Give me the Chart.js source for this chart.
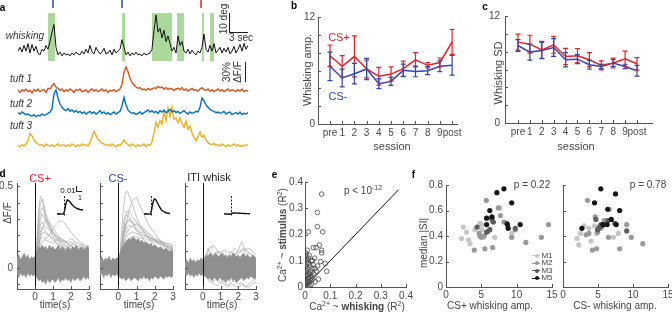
<!DOCTYPE html>
<html>
<head>
<meta charset="utf-8">
<script src="https://cdn.jsdelivr.net/npm/chart.js@4.4.1/dist/chart.umd.min.js"></script>
<style>
body { margin: 0; background: #fff; }
#fig { position: relative; width: 672px; height: 319px; overflow: hidden; font-family: 'Liberation Sans', Arial, sans-serif; color: #333; }
#fig canvas { position: absolute; }
.t { position: absolute; white-space: nowrap; line-height: 1; transform: translate(-50%, -50%); }
.t.r { transform: translate(-50%, -50%) rotate(-90deg); }
.t sup { font-size: 7px; line-height: 0; vertical-align: 4px; }
.bar { position: absolute; background: #222; }
</style>
</head>
<body>
<div id="fig"></div>
<script>
// --- Panel a: whisking + tuft traces (one sample = 1/3 s) ---
const whisk = [1, 3, 0.5, 4, 1, 5, 0, 4.5, 1, 3.5, 0, -1, 2, 1, 4, 2, 6, 11, 15, 3,
  -1, 0.5, -1.5, 0, -1, -0.5, -1.5, 0, -1, 0.5, -0.5, -1, 1, -0.5, 2, 0, 4, 0.5, -0.5, 3,
  1, -0.5, 0.5, 2.5, -0.5, 0, 1.5, -1, 2, 0, 1, 2, 7, 3, -1, 0.5, -1.5, 0, -1, 0.5,
  -1, -0.5, -1.5, 0, -1, -0.5, 0, 2, 12, 20, 11, 13, 8, 12, 6, 9, 5, 1, 3, 0,
  9, 4, 6, 1, 0, 2, -0.5, 1.5, 0, -1, 1, 0, 3, 10, 2, 0.5, 4, 1, 5, 0,
  1.5, 3, 0, 2.5, 0.5, 3, -0.5, 1, 3.5, 0, 2, 4.5, 1, 5, 2, 4];
const tuft1 = [1, -2, 2, 0, 3, -1, 1, -3, 2, 0, 3, -1, 1, 2, -2, 4, 3, 8, 11, 6,
  4, 1, 3, -1, 2, 0, 3, 1, -2, 2, 1, 3, -1, 0, 2, -2, 1, 3, 0, 2,
  -1, 1, 3, 0, 2, -2, 1, 0, 2, -1, 1, 3, 10, 28, 36, 29, 19, 13, 9, 6,
  4, 5, 2, 3, 1, 4, 2, 3, 5, 4, 7, 5, 6, 3, 5, 2, 4, 3, 1, 3,
  4, 2, 5, 1, 3, 0, 2, 4, 1, 2, 0, 3, 5, 2, 1, 3, 0, 2, -1, 1,
  3, 0, 2, -1, 1, 3, 0, 2, 1, -1, 2, 0, 3, -1, 1, 0];
const tuft2 = [2, 0, 3, 1, -1, 0, -2, -3, -1, -4, -2, -3, 0, -2, -1, 1, 3, 8, 30, 36,
  24, 15, 10, 7, 5, 8, 4, 6, 3, 5, 2, 4, 1, 3, 0, 2, 4, 1, 3, 0,
  2, 5, 1, 3, 0, 2, -1, 1, 3, 0, 2, 4, 12, 25, 14, 6, 3, 1, 2, -1,
  1, 3, 0, 2, 4, 6, 3, 5, 2, 4, 1, 5, 3, 6, 2, 4, 7, 3, 5, 2,
  4, 1, 3, 5, 2, 0, 3, 1, 2, 4, 3, 10, 24, 20, 14, 10, 7, 5, 4, 2,
  3, 1, 2, 4, 0, 2, 3, -1, 1, 2, 0, 3, -1, 1, 0, 2];
const tuft3 = [1, -1, 2, 0, 3, 8, 19, 15, 9, 5, 3, 1, 2, -1, 3, 1, 0, 2, -1, 1,
  3, 0, 2, 1, -1, 2, 0, 3, 1, -1, 2, 0, 3, 1, 2, 0, 5, 14, 22, 16,
  10, 7, 4, 3, 1, 2, 0, 3, 1, -1, 2, 1, 4, 9, 5, 2, 0, 3, 1, -1,
  2, 0, 1, 3, -1, 2, 1, 6, 20, 36, 28, 38, 33, 51, 38, 57, 44, 58, 40, 42,
  35, 42, 33, 28, 37, 25, 30, 20, 12, 8, 14, 21, 13, 16, 9, 5, 3, 2, 4, 1,
  2, 0, 3, 1, -1, 2, 0, 1, 3, 0, 2, -1, 1, 0, 2, 1];
const whiskEpochs = [[15, 18.5], [52, 53.5], [67, 77], [79.5, 83], [92, 93], [96, 98]];
const csMinusOnsets = [17.5, 52];
const csPlusOnsets = [91.5];

// --- Panels b, c: per-session whisking ---
const sessions = ['pre', '1', '2', '3', '4', '5', '6', '7', '8', '9', 'post'];
const ampPlus = [7.66, 6.47, 7.59, 6.17, 5.35, 5.6, 6.2, 7.2, 6.58, 6.9, 9.2];
const ampPlusErr = [1.2, 1.2, 2.3, 1.0, 1.0, 0.8, 0.85, 0.8, 0.3, 0.5, 1.4];
const ampMinus = [6.47, 5.16, 5.64, 6.17, 4.52, 4.78, 6.02, 5.9, 5.98, 6.47, 6.58];
const ampMinusErr = [1.6, 1.0, 1.15, 1.2, 0.55, 0.45, 0.7, 0.6, 0.45, 0.6, 1.1];
const sdPlus = [9.07, 8.84, 8.2, 8.77, 7.46, 7.54, 7.09, 6.46, 6.72, 7.2, 6.64];
const sdPlusErr = [0.9, 1.0, 0.95, 0.95, 0.9, 0.8, 0.8, 0.5, 0.55, 0.85, 0.7];
const sdMinus = [8.69, 7.95, 8.13, 8.47, 7.09, 7.16, 6.53, 6.34, 6.72, 6.34, 5.86];
const sdMinusErr = [0.65, 0.9, 0.9, 1.0, 0.8, 0.5, 0.5, 0.25, 0.4, 0.25, 0.6];

// --- Panel d: dF/F traces around CS / ITI whisks ---
const dTime = [-1, -0.9, -0.8, -0.7, -0.6, -0.5, -0.4, -0.3, -0.2, -0.1, 0,
  0.1, 0.2, 0.3, 0.4, 0.5, 0.6, 0.7, 0.8, 0.9, 1, 1.1, 1.2, 1.3, 1.4, 1.5,
  1.6, 1.7, 1.8, 1.9, 2, 2.1, 2.2, 2.3, 2.4, 2.5, 2.6, 2.7, 2.8, 2.9, 3];
const csPlusUpper = [0.06, 0.08, 0.05, 0.07, 0.09, 0.06, 0.08, 0.05, 0.07, 0.06, 0.07,
  0.10, 0.13, 0.12, 0.14, 0.12, 0.13, 0.11, 0.14, 0.12, 0.13, 0.11, 0.12, 0.14, 0.11, 0.13,
  0.12, 0.10, 0.13, 0.12, 0.11, 0.13, 0.12, 0.14, 0.11, 0.12, 0.13, 0.11, 0.12, 0.13, 0.12];
const csPlusLower = [-0.04, -0.06, -0.03, -0.05, -0.04, -0.06, -0.03, -0.05, -0.04, -0.05, -0.04,
  -0.06, -0.08, -0.07, -0.09, -0.08, -0.10, -0.07, -0.09, -0.08, -0.07, -0.09, -0.08, -0.06, -0.09, -0.07,
  -0.08, -0.06, -0.08, -0.07, -0.09, -0.06, -0.08, -0.07, -0.06, -0.08, -0.07, -0.05, -0.07, -0.06, -0.07];
const csMinusUpper = [0.05, 0.07, 0.04, 0.06, 0.05, 0.07, 0.04, 0.06, 0.05, 0.06, 0.06,
  0.09, 0.12, 0.14, 0.16, 0.17, 0.18, 0.17, 0.19, 0.18, 0.17, 0.18, 0.16, 0.17, 0.15, 0.16,
  0.15, 0.14, 0.15, 0.13, 0.14, 0.13, 0.12, 0.13, 0.12, 0.11, 0.12, 0.11, 0.10, 0.11, 0.10];
const csMinusLower = [-0.05, -0.03, -0.06, -0.04, -0.05, -0.03, -0.06, -0.04, -0.05, -0.04, -0.05,
  -0.06, -0.07, -0.06, -0.08, -0.07, -0.06, -0.08, -0.07, -0.06, -0.07, -0.08, -0.06, -0.07, -0.05, -0.07,
  -0.06, -0.08, -0.06, -0.07, -0.05, -0.06, -0.07, -0.05, -0.06, -0.07, -0.05, -0.06, -0.05, -0.06, -0.05];
const itiUpper = [0.04, 0.05, 0.03, 0.06, 0.04, 0.05, 0.03, 0.05, 0.04, 0.06, 0.05,
  0.06, 0.08, 0.07, 0.09, 0.08, 0.07, 0.09, 0.08, 0.07, 0.08, 0.09, 0.07, 0.08, 0.06, 0.08,
  0.07, 0.09, 0.08, 0.07, 0.08, 0.06, 0.08, 0.09, 0.07, 0.08, 0.07, 0.06, 0.08, 0.07, 0.06];
const itiLower = [-0.04, -0.05, -0.03, -0.05, -0.04, -0.06, -0.04, -0.05, -0.03, -0.05, -0.04,
  -0.05, -0.06, -0.07, -0.06, -0.08, -0.07, -0.06, -0.08, -0.07, -0.06, -0.08, -0.07, -0.09, -0.07, -0.08,
  -0.06, -0.08, -0.07, -0.09, -0.08, -0.07, -0.06, -0.08, -0.07, -0.06, -0.07, -0.05, -0.06, -0.07, -0.06];
const traceTime = [0, 0.1, 0.2, 0.3, 0.4, 0.5, 0.6, 0.8, 1.0, 1.2, 1.4, 1.6, 1.8, 2.0, 2.2, 2.4, 2.6, 2.8, 3.0];
const csPlusTraces = [
  [0.03, 0.15, 0.35, 0.44, 0.43, 0.36, 0.30, 0.24, 0.19, 0.15, 0.13, 0.12, 0.10, 0.09, 0.08, 0.07, 0.06, 0.06, 0.05],
  [0.02, 0.12, 0.30, 0.40, 0.42, 0.38, 0.33, 0.27, 0.22, 0.18, 0.15, 0.13, 0.11, 0.10, 0.09, 0.08, 0.07, 0.07, 0.06],
  [0.01, 0.10, 0.22, 0.30, 0.33, 0.31, 0.28, 0.25, 0.22, 0.20, 0.17, 0.15, 0.13, 0.12, 0.11, 0.10, 0.09, 0.08, 0.08],
  [0.02, 0.08, 0.16, 0.22, 0.25, 0.24, 0.22, 0.19, 0.17, 0.15, 0.14, 0.12, 0.11, 0.10, 0.10, 0.09, 0.09, 0.08, 0.08],
  [0.01, 0.05, 0.10, 0.14, 0.16, 0.17, 0.18, 0.20, 0.24, 0.27, 0.29, 0.28, 0.25, 0.22, 0.19, 0.17, 0.15, 0.14, 0.13],
  [0.02, 0.09, 0.18, 0.26, 0.28, 0.26, 0.25, 0.23, 0.21, 0.19, 0.18, 0.16, 0.15, 0.16, 0.14, 0.13, 0.12, 0.12, 0.11],
  [0.01, 0.06, 0.14, 0.19, 0.21, 0.22, 0.21, 0.20, 0.18, 0.17, 0.16, 0.17, 0.15, 0.14, 0.15, 0.13, 0.14, 0.12, 0.12],
  [0.02, 0.10, 0.25, 0.34, 0.37, 0.35, 0.31, 0.26, 0.21, 0.18, 0.16, 0.14, 0.13, 0.14, 0.12, 0.11, 0.10, 0.10, 0.09],
  [0.01, 0.07, 0.13, 0.17, 0.19, 0.18, 0.17, 0.16, 0.15, 0.17, 0.18, 0.17, 0.16, 0.18, 0.16, 0.15, 0.14, 0.13, 0.13],
  [0.00, 0.05, 0.12, 0.20, 0.24, 0.27, 0.29, 0.28, 0.25, 0.21, 0.18, 0.16, 0.15, 0.13, 0.12, 0.12, 0.11, 0.10, 0.10]
];
const csMinusTraces = [
  [0.00, 0.08, 0.25, 0.38, 0.46, 0.47, 0.44, 0.38, 0.31, 0.26, 0.22, 0.19, 0.16, 0.14, 0.12, 0.10, 0.09, 0.08, 0.07],
  [0.00, 0.05, 0.12, 0.18, 0.24, 0.30, 0.36, 0.42, 0.43, 0.38, 0.33, 0.28, 0.24, 0.21, 0.18, 0.16, 0.14, 0.12, 0.11],
  [0.00, 0.07, 0.18, 0.28, 0.33, 0.35, 0.34, 0.31, 0.28, 0.25, 0.23, 0.21, 0.19, 0.17, 0.16, 0.15, 0.13, 0.12, 0.12],
  [0.00, 0.06, 0.14, 0.22, 0.27, 0.29, 0.30, 0.28, 0.26, 0.24, 0.22, 0.20, 0.18, 0.17, 0.15, 0.14, 0.13, 0.12, 0.11],
  [0.00, 0.05, 0.12, 0.19, 0.23, 0.25, 0.26, 0.25, 0.23, 0.21, 0.20, 0.19, 0.18, 0.17, 0.16, 0.16, 0.15, 0.14, 0.13],
  [0.00, 0.04, 0.10, 0.15, 0.19, 0.22, 0.24, 0.26, 0.27, 0.26, 0.24, 0.22, 0.20, 0.18, 0.17, 0.15, 0.14, 0.13, 0.12],
  [0.00, 0.06, 0.15, 0.24, 0.31, 0.33, 0.31, 0.27, 0.23, 0.20, 0.17, 0.15, 0.14, 0.12, 0.11, 0.10, 0.10, 0.09, 0.09],
  [0.00, 0.04, 0.09, 0.14, 0.18, 0.20, 0.21, 0.22, 0.21, 0.20, 0.19, 0.19, 0.18, 0.17, 0.17, 0.16, 0.15, 0.15, 0.14],
  [0.00, 0.05, 0.13, 0.21, 0.26, 0.28, 0.29, 0.27, 0.24, 0.22, 0.21, 0.19, 0.17, 0.16, 0.15, 0.14, 0.12, 0.11, 0.10],
  [0.00, 0.03, 0.08, 0.12, 0.15, 0.17, 0.18, 0.19, 0.19, 0.18, 0.18, 0.17, 0.17, 0.16, 0.15, 0.15, 0.14, 0.13, 0.13]
];
const itiTraces = [
  [0.00, 0.02, 0.06, 0.10, 0.13, 0.12, 0.14, 0.11, 0.08, 0.06, 0.05, 0.06, 0.08, 0.11, 0.16, 0.10, 0.07, 0.05, 0.04],
  [0.00, 0.03, 0.08, 0.12, 0.10, 0.08, 0.07, 0.09, 0.10, 0.08, 0.07, 0.09, 0.12, 0.10, 0.11, 0.12, 0.09, 0.08, 0.06],
  [0.00, -0.03, -0.05, -0.07, -0.09, -0.08, -0.10, -0.11, -0.09, -0.10, -0.12, -0.10, -0.11, -0.12, -0.10, -0.11, -0.12, -0.10, -0.09],
  [0.00, 0.02, 0.04, 0.07, 0.08, 0.09, 0.08, 0.10, 0.09, 0.11, 0.09, 0.10, 0.08, 0.09, 0.10, 0.11, 0.12, 0.10, 0.08],
  [0.00, -0.02, -0.04, -0.06, -0.05, -0.07, -0.08, -0.07, -0.09, -0.08, -0.11, -0.09, -0.08, -0.10, -0.09, -0.12, -0.10, -0.08, -0.07]
];
const dXTicks = [0, 1, 2, 3];
const dYTicks = [-0.1, 0, 0.1, 0.2, 0.3, 0.4, 0.5];
// mean response insets
const insetTime = [-1, -0.6, -0.3, 0, 0.15, 0.3, 0.45, 0.6, 0.8, 1.0, 1.3, 1.7, 2.1, 2.5, 3.0];
const insetCsPlus = [0, 0.0005, -0.0003, 0, 0.006, 0.016, 0.024, 0.028, 0.027, 0.024, 0.019, 0.014, 0.011, 0.009, 0.008];
const insetCsMinus = [0, 0.0004, -0.0002, 0, 0.007, 0.018, 0.026, 0.030, 0.029, 0.024, 0.016, 0.008, 0.004, 0.002, 0.001];
const insetIti = [0, 0.0003, -0.0005, 0, 0.001, 0.0015, 0.002, 0.0022, 0.002, 0.0018, 0.0015, 0.0012, 0.001, 0.0008, 0.0005];

// --- Panel e: R^2 per tuft ---
const eWhisk = [0.066, 0.049, 0.049, 0.070, 0.013, 0.033, 0.044, 0.057, 0.066, 0.066, 0.062, 0.080, 0.086, 0.053, 0.013, 0.004, 0.030, 0.040, 0.020,
  0.002, 0.005, 0.008, 0.010, 0.003, 0.012, 0.015, 0.006, 0.018, 0.020, 0.004, 0.010, 0.022, 0.025, 0.015, 0.008, 0.030, 0.028, 0.035, 0.001,
  0.012, 0.020, 0.005, 0.017, 0.025, 0.040, 0.032, 0.045, 0.010, 0.002, 0.007, 0.014, 0.027, 0.038, 0.050, 0.001, 0.003, 0.019, 0.023, 0.009];
const eStim = [0.354, 0.284, 0.230, 0.210, 0.210, 0.150, 0.150, 0.160, 0.140, 0.130, 0.097, 0.090, 0.060, 0.030, 0.110, 0.120, 0.100, 0.070, 0.050,
  0.010, 0.020, 0.005, 0.030, 0.040, 0.015, 0.050, 0.060, 0.020, 0.040, 0.080, 0.070, 0.060, 0.010, 0.090, 0.100, 0.030, 0.070, 0.050, 0.030,
  0.000, 0.080, 0.110, 0.120, 0.100, 0.020, 0.085, 0.060, 0.045, 0.065, 0.090, 0.035, 0.045, 0.110, 0.080, 0.005, 0.130, 0.005, 0.025, 0.140];
const eDiag = [0, 0.37];

// --- Panel f: median |SI| vs whisking amplitude, per mouse ---
const mice = ['M1', 'M2', 'M3', 'M5'];
const m1Plus = [[2.2, 0.38], [2.45, 0.47], [2.9, 0.43], [3.2, 0.37], [3.4, 0.34], [4.1, 0.45], [4.8, 0.50], [5.0, 0.49], [5.3, 0.39], [6.9, 0.39], [7.6, 0.62], [9.3, 0.42], [5.05, 0.45]];
const m2Plus = [[4.0, 0.29], [4.7, 0.42], [4.8, 0.40], [5.0, 0.39], [5.4, 0.40], [5.7, 0.68], [5.5, 0.30], [6.0, 0.44], [6.5, 0.52], [6.6, 0.31], [7.7, 0.56], [8.2, 0.51], [9.3, 0.39], [9.8, 0.45], [11.3, 0.35], [13.5, 0.39], [14.5, 0.49], [7.4, 0.62]];
const m3Plus = [[4.4, 0.47], [5.75, 0.43], [6.2, 0.45], [6.5, 0.54], [6.7, 0.51], [8.6, 0.50], [9.8, 0.46]];
const m5Plus = [[5.75, 0.54], [5.75, 0.49], [6.2, 0.60], [6.5, 0.55], [7.2, 0.74], [8.2, 0.77], [8.7, 0.49], [8.8, 0.46], [9.3, 0.66], [10.5, 0.49]];
const m1Minus = [[2.0, 0.38], [2.25, 0.33], [2.5, 0.42], [3.0, 0.48], [3.7, 0.46], [4.0, 0.36], [4.5, 0.48], [5.9, 0.49], [6.7, 0.61], [7.2, 0.39], [7.9, 0.42], [4.8, 0.42]];
const m2Minus = [[3.5, 0.68], [4.2, 0.29], [4.8, 0.30], [3.3, 0.41], [3.7, 0.42], [4.95, 0.43], [5.4, 0.46], [5.9, 0.52], [6.5, 0.39], [8.1, 0.30], [9.1, 0.49], [9.75, 0.39], [11.4, 0.34], [4.6, 0.55]];
const m3Minus = [[4.7, 0.53], [5.2, 0.47], [5.4, 0.49], [6.4, 0.52], [7.4, 0.50], [9.1, 0.44], [4.95, 0.45], [5.6, 0.48]];
const m5Minus = [[2.7, 0.46], [4.5, 0.66], [5.4, 0.77], [5.7, 0.49], [6.3, 0.49], [6.4, 0.61], [6.9, 0.53], [7.5, 0.73], [7.6, 0.49], [8.1, 0.60]];

// --- Style ---
const RED = '#e8202a';
const BLUE = '#3046b0';
const AXIS = '#555';
const TICK = '#4a4a4a';
const BAND = '#8f8f8f';
const TRACE = '#aaaaaa';
const MOUSE_COLORS = ['#c6c6c6', '#999999', '#5c5c5c', '#151515'];
const TUFT_COLORS = ['#d95319', '#0072bd', '#edb120'];

Chart.defaults.font.family = "'Liberation Sans', Arial, sans-serif";
Chart.defaults.font.size = 10;
Chart.defaults.color = TICK;
Chart.defaults.animation = false;
Chart.defaults.responsive = false;
Chart.defaults.plugins.legend.display = false;
Chart.defaults.plugins.tooltip.enabled = false;
Chart.defaults.elements.point.radius = 0;
Chart.defaults.elements.line.tension = 0;

const fig = document.getElementById('fig');

function addCanvas(x, y, w, h) {
    const c = document.createElement('canvas');
    c.width = w; c.height = h;
    c.style.left = x + 'px'; c.style.top = y + 'px';
    c.style.width = w + 'px'; c.style.height = h + 'px';
    fig.appendChild(c);
    return c;
}

function text(html, x, y, style, rotate) {
    const d = document.createElement('div');
    d.className = rotate ? 't r' : 't';
    d.innerHTML = html;
    d.style.left = x + 'px';
    d.style.top = y + 'px';
    Object.assign(d.style, style || {});
    fig.appendChild(d);
}

function bar(x, y, w, h) {
    const d = document.createElement('div');
    d.className = 'bar';
    Object.assign(d.style, { left: x + 'px', top: y + 'px', width: w + 'px', height: h + 'px' });
    fig.appendChild(d);
}

// fixed axis thickness so each plot box lands where the figure has it
function fix(size) {
    return s => {
        if (s.isHorizontal()) s.height = size; else s.width = size;
        s.paddingLeft = 0; s.paddingRight = 0; s.paddingTop = 0; s.paddingBottom = 0;
    };
}

function ax(o) {
    const ticks = Object.assign({ color: TICK, font: { size: 10 }, padding: 3, autoSkip: false, maxRotation: 0, minRotation: 0 }, o.ticks || {});
    return Object.assign({
        grid: { display: false, drawTicks: false },
        border: { display: true, color: AXIS, width: 1 }
    }, o, { ticks });
}

const pts = (xs, ys) => xs.map((x, i) => ({ x: x, y: ys[i] }));

// --- Plugins ---
// MATLAB-style inward tick marks
const inTicks = {
    id: 'inTicks',
    afterDraw(chart, args, opts) {
        const { ctx, chartArea: a } = chart;
        const len = opts.len || 3;
        ctx.save();
        ctx.strokeStyle = AXIS;
        ctx.lineWidth = 1;
        ['x', 'y'].forEach(id => {
            const s = chart.scales[id];
            if (!s || !s.options.display) return;
            s.ticks.forEach(t => {
                const p = Math.round(s.getPixelForValue(t.value)) + 0.5;
                ctx.beginPath();
                if (id === 'x') { ctx.moveTo(p, a.bottom); ctx.lineTo(p, a.bottom - len); }
                else { ctx.moveTo(a.left, p); ctx.lineTo(a.left + len, p); }
                ctx.stroke();
            });
        });
        ctx.restore();
    }
};

// vertical reference lines (stimulus onset)
const vLines = {
    id: 'vLines',
    afterDatasetsDraw(chart, args, opts) {
        if (!opts.lines) return;
        const { ctx, chartArea: a, scales: { x } } = chart;
        opts.lines.forEach(l => {
            const px = Math.round(x.getPixelForValue(l.value)) + 0.5;
            ctx.save();
            ctx.strokeStyle = l.color;
            ctx.lineWidth = l.width || 1;
            ctx.setLineDash(l.dash || []);
            ctx.beginPath(); ctx.moveTo(px, a.top); ctx.lineTo(px, a.bottom); ctx.stroke();
            ctx.restore();
        });
    }
};

// error bars read from dataset.errors
const errorBars = {
    id: 'errorBars',
    afterDatasetsDraw(chart) {
        const ctx = chart.ctx;
        chart.data.datasets.forEach((ds, i) => {
            if (!ds.errors) return;
            const meta = chart.getDatasetMeta(i);
            const xs = chart.scales[meta.xAxisID], ys = chart.scales[meta.yAxisID];
            ctx.save();
            ctx.strokeStyle = ds.borderColor;
            ctx.lineWidth = 1.2;
            ds.data.forEach((p, j) => {
                const x = xs.getPixelForValue(p.x);
                const lo = ys.getPixelForValue(p.y - ds.errors[j]);
                const hi = ys.getPixelForValue(p.y + ds.errors[j]);
                ctx.beginPath();
                ctx.moveTo(x, lo); ctx.lineTo(x, hi);
                ctx.moveTo(x - 2.5, lo); ctx.lineTo(x + 2.5, lo);
                ctx.moveTo(x - 2.5, hi); ctx.lineTo(x + 2.5, hi);
                ctx.stroke();
            });
            ctx.restore();
        });
    }
};

// green whisking epochs + CS onset marks for panel a
const whiskMarks = {
    id: 'whiskMarks',
    beforeDatasetsDraw(chart, args, opts) {
        const { ctx, chartArea: a, scales: { x, yw } } = chart;
        ctx.save();
        ctx.fillStyle = '#abd89b';
        const top = yw.getPixelForValue(21), bottom = yw.getPixelForValue(-4.2);
        opts.epochs.forEach(([s, e]) => {
            const x0 = x.getPixelForValue(s), x1 = x.getPixelForValue(e);
            ctx.fillRect(x0, top, x1 - x0, bottom - top);
        });
        ctx.lineWidth = 1.5;
        [[opts.minus, BLUE], [opts.plus, RED]].forEach(([list, col]) => {
            ctx.strokeStyle = col;
            list.forEach(t => {
                const px = x.getPixelForValue(t);
                ctx.beginPath(); ctx.moveTo(px, a.top); ctx.lineTo(px, a.top + 8); ctx.stroke();
            });
        });
        ctx.restore();
    }
};

// --- Panel a ---
(function () {
    const c = addCanvas(0, 0, 260, 160);
    const idx = whisk.map((_, i) => i);
    const hidden = (min, max) => ({ type: 'linear', display: false, min: min, max: max });
    new Chart(c, {
        type: 'line',
        data: {
            datasets: [
                { data: pts(idx, whisk), yAxisID: 'yw', borderColor: '#111', borderWidth: 1 },
                { data: pts(idx, tuft1), yAxisID: 'y1', borderColor: TUFT_COLORS[0], borderWidth: 1.4 },
                { data: pts(idx, tuft2), yAxisID: 'y2', borderColor: TUFT_COLORS[1], borderWidth: 1.4 },
                { data: pts(idx, tuft3), yAxisID: 'y3', borderColor: TUFT_COLORS[2], borderWidth: 1.4 }
            ]
        },
        options: {
            layout: { padding: { left: 18, right: 12, top: 0, bottom: 0 } },
            scales: {
                x: hidden(0, 115),
                yw: hidden(-56.3, 27.9),
                y1: hidden(-103.5, 136.5),
                y2: hidden(-69, 171),
                y3: hidden(-21, 219)
            },
            plugins: { whiskMarks: { epochs: whiskEpochs, minus: csMinusOnsets, plus: csPlusOnsets } }
        },
        plugins: [whiskMarks]
    });
})();

// --- Panels b and c ---
function sessionPanel(left, width, yW, padTop, padRight, xMin, xMax, plus, plusErr, minus, minusErr, yPad) {
    const c = addCanvas(left, 0, width, 160);
    const idx = sessions.map((_, i) => i);
    new Chart(c, {
        type: 'line',
        data: {
            datasets: [
                { data: pts(idx, plus), errors: plusErr, borderColor: RED, borderWidth: 1.5, order: 0 },
                { data: pts(idx, minus), errors: minusErr, borderColor: BLUE, borderWidth: 1.5, order: 1 }
            ]
        },
        options: {
            layout: { padding: { left: 0, right: padRight, top: padTop, bottom: 0 } },
            scales: {
                x: ax({
                    type: 'linear', min: xMin, max: xMax, afterFit: fix(160 - padTop - 107),
                    afterBuildTicks: s => { s.ticks = idx.map(v => ({ value: v })); },
                    ticks: { padding: 3, callback: v => sessions[v] }
                }),
                y: ax({
                    type: 'linear', min: 0, max: 12, afterFit: fix(yW),
                    ticks: { stepSize: 2, padding: yPad, callback: v => (v === 0 || v === 12) ? String(v) : '' }
                })
            },
            plugins: { inTicks: { len: 3 } }
        },
        plugins: [inTicks, errorBars]
    });
}
sessionPanel(270, 195, 48, 17, 8, -0.98, 10.4, ampPlus, ampPlusErr, ampMinus, ampMinusErr, 3);
sessionPanel(465, 207, 40, 16, 20, -1.09, 11.26, sdPlus, sdPlusErr, sdMinus, sdMinusErr, 5);

// --- Panel d ---
function tracePanel(left, width, yW, padRight, lower, upper, traces, showY) {
    const c = addCanvas(left, 170, width, 149);
    const ds = [
        { data: pts(dTime, lower), borderColor: BAND, borderWidth: 0.6, fill: false, order: 1 },
        { data: pts(dTime, upper), borderColor: BAND, borderWidth: 0.6, backgroundColor: BAND, fill: '-1', order: 1 }
    ];
    traces.forEach(tr => ds.push({ data: pts(traceTime, tr), borderColor: TRACE, borderWidth: 0.7, order: 2 }));
    new Chart(c, {
        type: 'line',
        data: { datasets: ds },
        options: {
            layout: { padding: { left: 0, right: padRight, top: 13, bottom: 0 } },
            scales: {
                x: ax({
                    type: 'linear', min: -1, max: 3, afterFit: fix(30),
                    afterBuildTicks: s => { s.ticks = dXTicks.map(v => ({ value: v })); },
                    ticks: { padding: 2 }
                }),
                y: ax({
                    type: 'linear', min: -0.13, max: 0.52, afterFit: fix(yW),
                    afterBuildTicks: s => { s.ticks = dYTicks.map(v => ({ value: v })); },
                    ticks: { display: showY, padding: 4, callback: v => (v === 0 || v === 0.5) ? String(v) : '' }
                })
            },
            plugins: { inTicks: { len: 3 }, vLines: { lines: [{ value: 0, color: '#111', width: 1 }] } }
        },
        plugins: [inTicks, vLines]
    });
}
tracePanel(0, 95, 17, 6, csPlusLower, csPlusUpper, csPlusTraces, true);
tracePanel(95, 85, 5, 7, csMinusLower, csMinusUpper, csMinusTraces, false);
tracePanel(180, 85, 5, 9, itiLower, itiUpper, itiTraces, false);

function inset(left, values) {
    const c = addCanvas(left, 196, 26, 21);
    new Chart(c, {
        type: 'line',
        data: { datasets: [{ data: pts(insetTime, values), borderColor: '#111', borderWidth: 1.4 }] },
        options: {
            layout: { padding: 0 },
            scales: {
                x: { type: 'linear', display: false, min: -1, max: 3 },
                y: { type: 'linear', display: false, min: -0.006, max: 0.036 }
            },
            plugins: { vLines: { lines: [{ value: 0, color: '#222', width: 1, dash: [2, 1.5] }] } }
        },
        plugins: [vLines]
    });
}
inset(57, insetCsPlus);
inset(144, insetCsMinus);
inset(224, insetIti);

// --- Panel e ---
(function () {
    const c = addCanvas(270, 170, 145, 149);
    new Chart(c, {
        type: 'scatter',
        data: {
            datasets: [
                { data: pts(eWhisk, eStim), pointRadius: 2.3, pointBorderWidth: 0.8, pointBorderColor: '#444', pointBackgroundColor: 'rgba(0,0,0,0)' },
                { data: pts(eDiag, eDiag), showLine: true, borderColor: '#111', borderWidth: 1, pointRadius: 0 }
            ]
        },
        options: {
            layout: { padding: { left: 0, right: 9, top: 12, bottom: 0 } },
            scales: {
                x: ax({ type: 'linear', min: 0, max: 0.4, afterFit: fix(32), ticks: { stepSize: 0.1, padding: 3 } }),
                y: ax({ type: 'linear', min: 0, max: 0.4, afterFit: fix(35), ticks: { stepSize: 0.1, padding: 2 } })
            },
            plugins: { inTicks: { len: 3 } }
        },
        plugins: [inTicks]
    });
})();

// --- Panel f ---
function siPanel(left, width, yW, padRight, groups, showY) {
    const c = addCanvas(left, 170, width, 149);
    const ds = groups.map((g, i) => ({
        data: g.map(p => ({ x: p[0], y: p[1] })),
        pointRadius: 2.6, pointBorderWidth: 0, pointBackgroundColor: MOUSE_COLORS[i], order: groups.length - i
    }));
    new Chart(c, {
        type: 'scatter',
        data: { datasets: ds },
        options: {
            layout: { padding: { left: 0, right: padRight, top: 15, bottom: 0 } },
            scales: {
                x: ax({ type: 'linear', min: 0, max: 15, afterFit: fix(32), ticks: { stepSize: 5, padding: 2 } }),
                y: ax({ type: 'linear', min: 0, max: 0.8, afterFit: fix(yW), ticks: { stepSize: 0.2, padding: 3, display: showY } })
            },
            plugins: { inTicks: { len: 3 } }
        },
        plugins: [inTicks]
    });
}
siPanel(415, 145, 31, 8, [m1Plus, m2Plus, m3Plus, m5Plus], true);
siPanel(555, 117, 8, 2, [m1Minus, m2Minus, m3Minus, m5Minus], false);

// --- Text, scale bars, legend ---
const B = { fontWeight: 'bold', fontSize: '10px', color: '#000' };
text('a', 2.5, 7.5, B);
text('b', 294, 6, B);
text('c', 485, 6.5, B);
text('d', 2.5, 173.5, B);
text('e', 274.5, 174.5, B);
text('f', 413.5, 175, B);

const I = { fontStyle: 'italic', fontSize: '10px' };
text('whisking', 25, 36, I);
text('tuft 1', 21, 79, I);
text('tuft 2', 21, 104, I);
text('tuft 3', 21, 126, I);
bar(229, 13, 1, 20); bar(229, 32, 19, 1);
text('10 deg', 224, 19, { fontSize: '10px' }, true);
text('3 sec', 241, 38, { fontSize: '10px' });
bar(245, 62, 1, 20);
text('30%', 227, 72, { fontSize: '10px' }, true);
text('ΔF/F', 238, 72, { fontSize: '10px' }, true);

const T11 = { fontSize: '11px', color: '#444' };
text('CS+', 339, 37, { fontSize: '11px', color: RED });
text('CS-', 338, 96, { fontSize: '11px', color: BLUE });
text('Whisking amp.', 307, 70, T11, true);
text('session', 392, 146, T11);
text('Whisking SD', 498, 73, T11, true);
text('session', 576, 146, T11);

const T10 = { fontSize: '10px', color: '#444' };
text('CS+', 40, 178, { fontSize: '11px', color: RED });
text('CS-', 118, 178, { fontSize: '11px', color: BLUE });
text('ITI whisk', 209, 177, { fontSize: '11px', color: '#222' });
text('ΔF/F', 8, 213, T10, true);
text('time(s)', 55, 305, T10);
text('time(s)', 139, 305, T10);
text('time(s)', 222, 305, T10);
text('0.01', 68, 191, { fontSize: '8px', color: '#222' });
bar(76, 186, 1, 6); bar(76, 191, 6, 1);
text('1', 80, 197, { fontSize: '7px', color: '#222' });

text('p &lt; 10<sup>-12</sup>', 363, 191, T10);
text('Ca<sup>2+</sup> ~ <b>stimulus</b> (R<sup>2</sup>)', 283, 235, T10, true);
text('Ca<sup>2+</sup> ~ <b>whisking</b> (R<sup>2</sup>)', 357, 307, T10);

text('p = 0.22', 532, 185, T10);
text('p = 0.78', 648, 185, T10);
text('median |SI|', 424, 243, T10, true);
text('CS+ whisking amp.', 490, 306, T10);
text('CS- whisking amp.', 615, 306, T10);

mice.forEach((m, i) => {
    const y = 255 + i * 7.5;
    const line = document.createElement('div');
    Object.assign(line.style, { position: 'absolute', left: '532px', top: y + 'px', width: '8px', height: '1px', background: MOUSE_COLORS[i] });
    fig.appendChild(line);
    const dot = document.createElement('div');
    Object.assign(dot.style, { position: 'absolute', left: '534.5px', top: (y - 1.5) + 'px', width: '4px', height: '4px', borderRadius: '2px', background: MOUSE_COLORS[i] });
    fig.appendChild(dot);
    text(m, 547, y + 0.5, { fontSize: '8px', color: '#444' });
});
</script>
</body>
</html>
